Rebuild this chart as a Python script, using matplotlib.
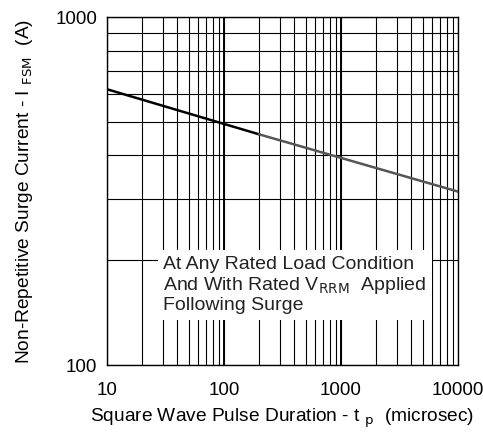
import numpy as np
import matplotlib
matplotlib.use("Agg")
import matplotlib.pyplot as plt

plt.rcParams['font.family'] = ['Liberation Sans', 'DejaVu Sans']

# surge current curve (log-log straight line)
tp_dark = [10, 200]
ifsm_dark = [620, 460]
tp_gray = [200, 10000]
ifsm_gray = [460, 315]

xticks = [10, 100, 1000, 10000]
xlabels = ["10", "100", "1000", "10000"]
yticks = [100, 1000]
ylabels = ["100", "1000"]

fig = plt.figure(figsize=(4.83, 4.33), dpi=100)
ax = fig.add_axes([107/483, 1-365/433, 351/483, 348/433])
ax.set_xscale("log")
ax.set_yscale("log")
ax.set_xlim(10, 10000)
ax.set_ylim(100, 1000)

ax.grid(True, which="both", color="black", lw=0.8)
# decade lines a bit heavier
for x in [100, 1000]:
    ax.axvline(x, color="black", lw=1.4, zorder=1)

ax.plot(tp_dark, ifsm_dark, color="black", lw=1.8, zorder=3)
ax.plot(tp_gray, ifsm_gray, color="#555555", lw=1.8, zorder=3)

ax.set_xticks(xticks)
ax.set_xticklabels(xlabels)
ax.set_yticks(yticks)
ax.set_yticklabels(ylabels)
ax.tick_params(which="both", length=0, labelsize=13.5)
ax.tick_params(axis="x", pad=12)
ax.tick_params(axis="y", pad=7)
ax.minorticks_on()
ax.tick_params(which="minor", length=0)
ax.xaxis.set_minor_formatter(matplotlib.ticker.NullFormatter())
ax.yaxis.set_minor_formatter(matplotlib.ticker.NullFormatter())
for s in ax.spines.values():
    s.set_linewidth(1.0)

ax.set_xlabel(r"Square Wave Pulse Duration - t $_{\rm p}$  (microsec)", fontsize=13.8, labelpad=6)
ax.set_ylabel(r"Non-Repetitive Surge Current - I $_{\rm FSM}$  (A)", fontsize=13.8, labelpad=15)

ax.text(0.16, 0.23, "At Any Rated Load Condition\nAnd With Rated V$_{\\rm RRM}$  Applied\nFollowing Surge",
        transform=ax.transAxes, fontsize=14, color="#222222", va="center", ha="left",
        linespacing=1.12, zorder=4,
        bbox=dict(facecolor="white", edgecolor="none", pad=4))

fig.savefig("out.png", dpi=100)
